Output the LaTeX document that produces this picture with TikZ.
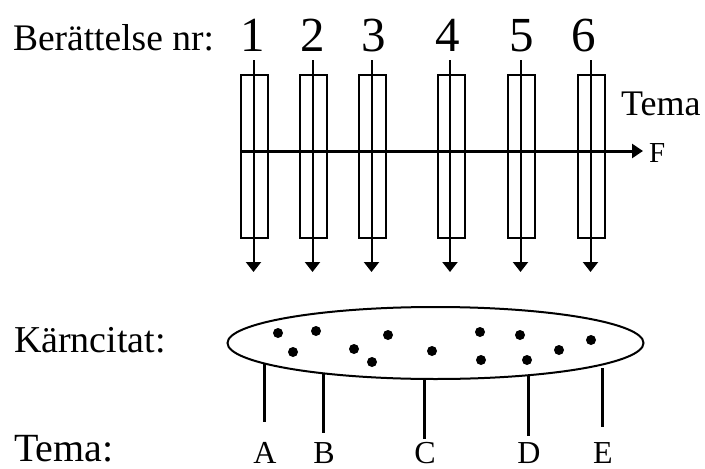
\documentclass[tikz,border=0pt]{standalone}
\usepackage{fontspec}
\setmainfont{Liberation Serif}
\usetikzlibrary{arrows.meta,shapes.geometric}
\begin{document}
\begin{tikzpicture}[x=1pt,y=-1pt,
  txt/.style={inner sep=0pt,outer sep=0pt,anchor=base west},
  story/.style={draw,line width=2pt,minimum width=27pt,minimum height=163pt,inner sep=0pt,outer sep=0pt},
  flow/.style={line width=2pt,-{Triangle[width=15pt,length=10pt]}},
  dot/.style={circle,fill,inner sep=0pt,minimum size=10pt},
  leg/.style={line width=3pt},
  lbl/.style={inner sep=0pt,anchor=base,font=\fontsize{32}{33}\selectfont}]
\useasboundingbox (0,0) rectangle (705,469);
% titles
\node[txt,font=\fontsize{37.5}{40}\selectfont] (t1) at (13,50) {Berättelse nr:};
\node[txt,font=\fontsize{38}{40}\selectfont] (t2) at (14,352) {Kärncitat:};
\node[txt,font=\fontsize{40}{42}\selectfont] (t3) at (14,461) {Tema:};
% story columns
\foreach \i/\x in {1/254.5,2/313.5,3/372.5,4/451,5/521.5,6/591.5}{
  \node[story] (r\i) at (\x,156) {};
  \coordinate (top\i) at (\x-1,60);
  \coordinate (bot\i) at (\x-1,272);
}
\foreach \i/\x in {1/253,2/313,3/374,4/448,5/522,6/584}{
  \node[inner sep=0pt,anchor=base,font=\fontsize{49}{50}\selectfont] (n\i) at (\x,51) {\i};
}
% horizontal axis
\coordinate (axs) at (240,151);
\node[txt,font=\fontsize{29}{30}\selectfont] (F) at (649,162) {F};
\node[txt,font=\fontsize{36}{38}\selectfont] (tema) at (621,115) {Tema};
\draw[line width=3pt,-{Triangle[width=14pt,length=11pt]}] (axs) -- (643,151) coordinate (axe);
\foreach \i in {1,...,6}{
  \draw[flow] (top\i) -- (bot\i);
}
% ellipse
\node[draw,ellipse,line width=2pt,minimum width=416pt,minimum height=72pt,inner sep=0pt] (ell) at (435.5,343) {};
\foreach \x/\y [count=\k] in {278/333,316/331,293/352,354/349,372/362,388/335,432/351,480/332,481/360,520/335,527/360,559/350,591/340}{
  \node[dot] (d\k) at (\x,\y) {};
}
% themes
\foreach \L/\x/\ya/\yb in {A/264/363/422,B/323/374/433,C/424/379/439,D/528/376/436,E/602/368/427}{
  \coordinate (u\L) at (\x,\ya);
  \coordinate (v\L) at (\x,\yb);
  \draw[leg] (u\L) -- (v\L);
  \node[lbl] (l\L) at (\x+1,463) {\L};
}
\end{tikzpicture}
\end{document}
